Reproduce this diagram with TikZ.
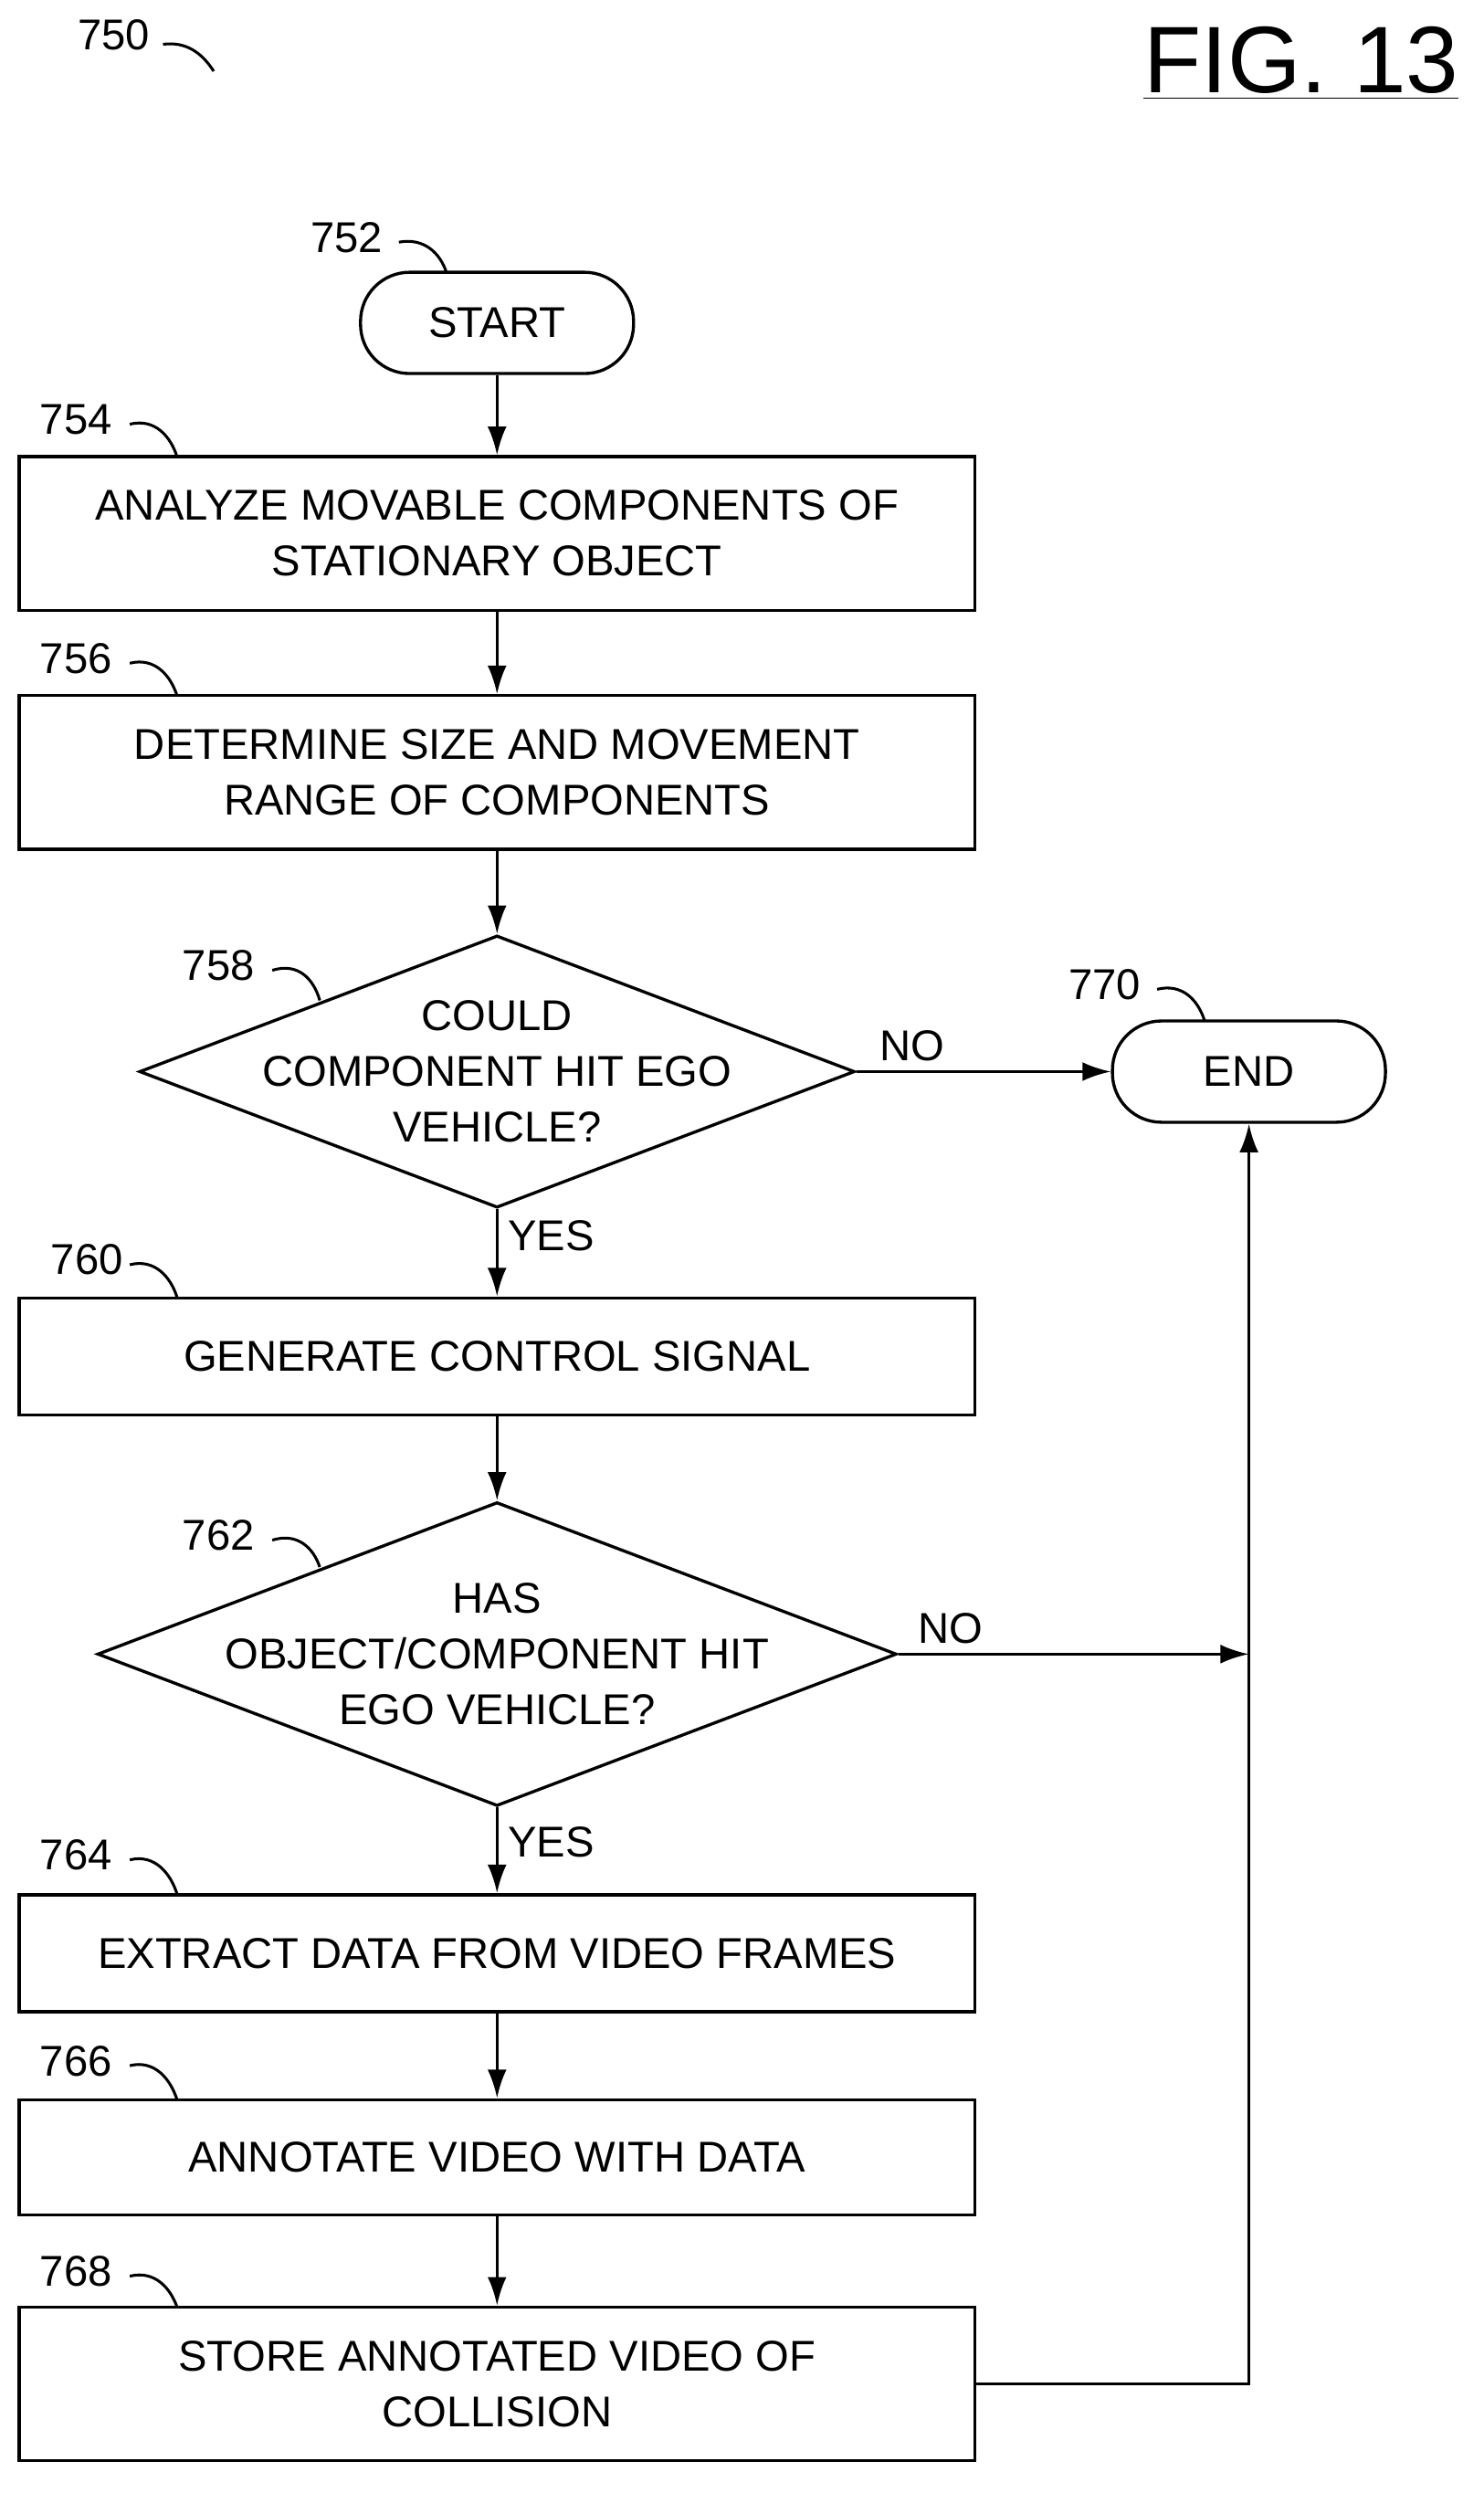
\documentclass[tikz,border=0pt]{standalone}
\usepackage{fontspec}
\setmainfont{Liberation Sans}
\usetikzlibrary{shapes.geometric,arrows.meta}
\tikzset{
  box/.style={draw, line width=1.1pt, minimum width=12.08cm, align=center, font=\fontsize{15.5}{20}\selectfont},
  term/.style={draw, line width=1.1pt, rounded corners=0.62cm, minimum width=3.45cm, minimum height=1.28cm, font=\fontsize{15.5}{20}\selectfont},
  dia/.style={draw, line width=1.1pt, diamond, inner sep=0pt},
  txt/.style={align=center, font=\fontsize{15.5}{20}\selectfont},
  ref/.style={font=\fontsize{15.5}{20}\selectfont},
  flow/.style={line width=1.1pt, -{Latex[length=0.36cm,width=0.24cm]}},
  lead/.style={line width=1pt}
}
\begin{document}
\begin{tikzpicture}[x=0.02cm,y=-0.02cm]
\useasboundingbox (0,0) rectangle (937,1575);
% title
\node[ref] (n750) at (72,22) {750};
\draw[lead] (103,28) .. controls (118,26) and (128,34) .. (135,45);
\node[font=\fontsize{34}{40}\selectfont] (fig) at (822,40) {\underline{FIG. 13}};
% nodes
\node[term] (start) at (314,204) {START};
\node[box, minimum height=1.94cm] (b754) at (314,337) {ANALYZE MOVABLE COMPONENTS OF\\STATIONARY OBJECT};
\node[box, minimum height=1.94cm] (b756) at (314,488) {DETERMINE SIZE AND MOVEMENT\\RANGE OF COMPONENTS};
\node[dia, minimum width=9.04cm, minimum height=3.44cm] (d758) at (314,677) {};
\node[txt] at (d758) {COULD\\COMPONENT HIT EGO\\VEHICLE?};
\node[term] (end) at (789,677) {END};
\node[box, minimum height=1.48cm] (b760) at (314,857) {GENERATE CONTROL SIGNAL};
\node[dia, minimum width=10.1cm, minimum height=3.84cm] (d762) at (314,1045) {};
\node[txt] at (d762) {HAS\\OBJECT/COMPONENT HIT\\EGO VEHICLE?};
\node[box, minimum height=1.48cm] (b764) at (314,1234) {EXTRACT DATA FROM VIDEO FRAMES};
\node[box, minimum height=1.46cm] (b766) at (314,1363) {ANNOTATE VIDEO WITH DATA};
\node[box, minimum height=1.94cm] (b768) at (314,1506) {STORE ANNOTATED VIDEO OF\\COLLISION};
\coordinate (join) at (789,1045);
\coordinate (turn) at (789,1506);
% connectors
\draw[flow] (start) -- (b754);
\draw[flow] (b754) -- (b756);
\draw[flow] (b756) -- (d758);
\draw[flow] (d758) -- node[ref, above, pos=0.22] {NO} (end);
\draw[flow] (d758) -- node[ref, right, pos=0.3] {YES} (b760);
\draw[flow] (b760) -- (d762);
\draw[flow] (d762) -- node[ref, above, pos=0.15] {NO} (join);
\draw[flow] (d762) -- node[ref, right, pos=0.4] {YES} (b764);
\draw[flow] (b764) -- (b766);
\draw[flow] (b766) -- (b768);
\draw[flow] (b768.east) -- (turn) -- (end.south);
% reference labels
\node[ref] (n752) at (219,150) {752};
\draw[lead] (252,153) .. controls (268,150) and (278,160) .. (282,172);
\node[ref] (n754) at (48,265) {754};
\draw[lead] (82,268) .. controls (98,264) and (108,276) .. (112,289);
\node[ref] (n756) at (48,416) {756};
\draw[lead] (82,419) .. controls (98,415) and (108,427) .. (112,440);
\node[ref] (n758) at (138,610) {758};
\draw[lead] (172,613) .. controls (188,608) and (198,618) .. (202,632);
\node[ref] (n760) at (55,796) {760};
\draw[lead] (82,799) .. controls (98,795) and (108,807) .. (112,820);
\node[ref] (n762) at (138,970) {762};
\draw[lead] (172,973) .. controls (188,968) and (198,978) .. (202,990);
\node[ref] (n764) at (48,1172) {764};
\draw[lead] (82,1175) .. controls (98,1171) and (108,1184) .. (112,1197);
\node[ref] (n766) at (48,1302) {766};
\draw[lead] (82,1305) .. controls (98,1301) and (108,1314) .. (112,1327);
\node[ref] (n768) at (48,1435) {768};
\draw[lead] (82,1438) .. controls (98,1434) and (108,1446) .. (112,1458);
\node[ref] (n770) at (698,622) {770};
\draw[lead] (731,625) .. controls (747,621) and (757,632) .. (761,645);
\end{tikzpicture}
\end{document}
